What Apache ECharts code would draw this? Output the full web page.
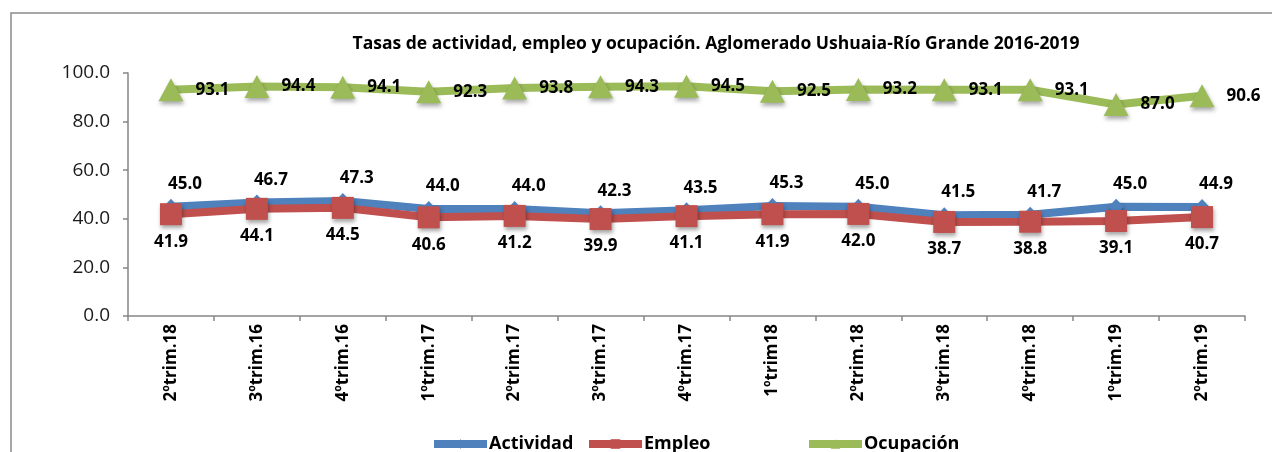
<!DOCTYPE html>
<html>
<head>
<meta charset="utf-8">
<script src="https://cdn.jsdelivr.net/npm/echarts@6/dist/echarts.min.js"></script>
<style>
html,body{margin:0;padding:0;background:#fff;}
#c{width:1272px;height:452px;}
</style>
</head>
<body>
<div id="c"></div>
<script>
var categories = ['2ºtrim.18','3ºtrim.16','4ºtrim.16','1ºtrim.17','2ºtrim.17','3ºtrim.17','4ºtrim.17','1ºtrim18','2ºtrim.18','3ºtrim.18','4ºtrim.18','1ºtrim.19','2ºtrim.19'];
var actividad = [45.0,46.7,47.3,44.0,44.0,42.3,43.5,45.3,45.0,41.5,41.7,45.0,44.9];
var empleo = [41.9,44.1,44.5,40.6,41.2,39.9,41.1,41.9,42.0,38.7,38.8,39.1,40.7];
var ocupacion = [93.1,94.4,94.1,92.3,93.8,94.3,94.5,92.5,93.2,93.1,93.1,87.0,90.6];
var yTicks = [0,20,40,60,80,100];
var titleText = 'Tasas de actividad, empleo y ocupación. Aglomerado Ushuaia-Río Grande 2016-2019';

var FONT = '"Open Sans", "Liberation Sans", sans-serif';
var shadow = {shadowBlur:4, shadowOffsetX:1, shadowOffsetY:3, shadowColor:'rgba(0,0,0,0.35)'};
var labelBase = {show:true, color:'#000', fontWeight:'bold', fontSize:17, fontFamily:FONT,
  formatter:function(p){return p.value.toFixed(1);}};

var chart = echarts.init(document.getElementById('c'), null, {renderer:'canvas'});
chart.setOption({
  backgroundColor:'#fff',
  animation:false,
  title:{text:titleText, left:711, top:30, textAlign:'center',
    textStyle:{fontFamily:FONT, fontWeight:'bold', fontSize:17.5, color:'#000'}},
  graphic:[{type:'rect', shape:{x:11, y:13, width:1400, height:600}, style:{fill:'none', stroke:'#8a8a8a', lineWidth:1.5}, silent:true}],
  legend:[
    {data:['Actividad'], left:425, top:430},
    {data:['Empleo'], left:580, top:430},
    {data:['Ocupación'], left:800, top:430}
  ].map(function(l){
    l.itemWidth=53; l.itemHeight=12; l.itemGap=4;
    l.lineStyle={width:8};
    l.textStyle={fontFamily:FONT, fontWeight:'bold', fontSize:18, color:'#000', padding:[0,0,0,-3]};
    return l;
  }),
  grid:{left:128, right:27, top:73, bottom:136},
  xAxis:{type:'category', data:categories, boundaryGap:true,
    axisLine:{lineStyle:{color:'#868686', width:1.5}},
    axisTick:{show:true, length:5, lineStyle:{color:'#868686', width:1.5}},
    axisLabel:{rotate:90, margin:8, fontFamily:FONT, fontWeight:'bold', fontSize:17, color:'#000'}
  },
  yAxis:{type:'value', min:yTicks[0], max:yTicks[yTicks.length-1], interval:yTicks[1]-yTicks[0],
    splitLine:{show:false},
    axisLine:{show:true, lineStyle:{color:'#868686', width:1.5}},
    axisTick:{show:true, length:5, lineStyle:{color:'#868686', width:1.5}},
    axisLabel:{fontFamily:FONT, fontSize:19, color:'#1a1a1a', margin:18, formatter:function(v){return v.toFixed(1);}}
  },
  series:[
    {name:'Actividad', type:'line', data:actividad, symbol:'diamond', symbolSize:[15,16],
      lineStyle:{color:'#4F81BD', width:8},
      itemStyle:Object.assign({color:'#4F81BD'}, shadow),
      label:Object.assign({}, labelBase, {position:'top', offset:[14,-2], distance:4}),
      z:2},
    {name:'Empleo', type:'line', data:empleo, symbol:'rect', symbolSize:22,
      lineStyle:{color:'#C0504D', width:8},
      itemStyle:Object.assign({color:'#C0504D'}, shadow),
      label:Object.assign({}, labelBase, {position:'bottom', distance:8}),
      z:3},
    {name:'Ocupación', type:'line', data:ocupacion, symbol:'triangle', symbolSize:[25,23],
      lineStyle:{color:'#9BBB59', width:8},
      itemStyle:Object.assign({color:'#9BBB59'}, shadow),
      label:Object.assign({}, labelBase, {position:'right', distance:12}),
      z:2}
  ]
});
</script>
</body>
</html>
